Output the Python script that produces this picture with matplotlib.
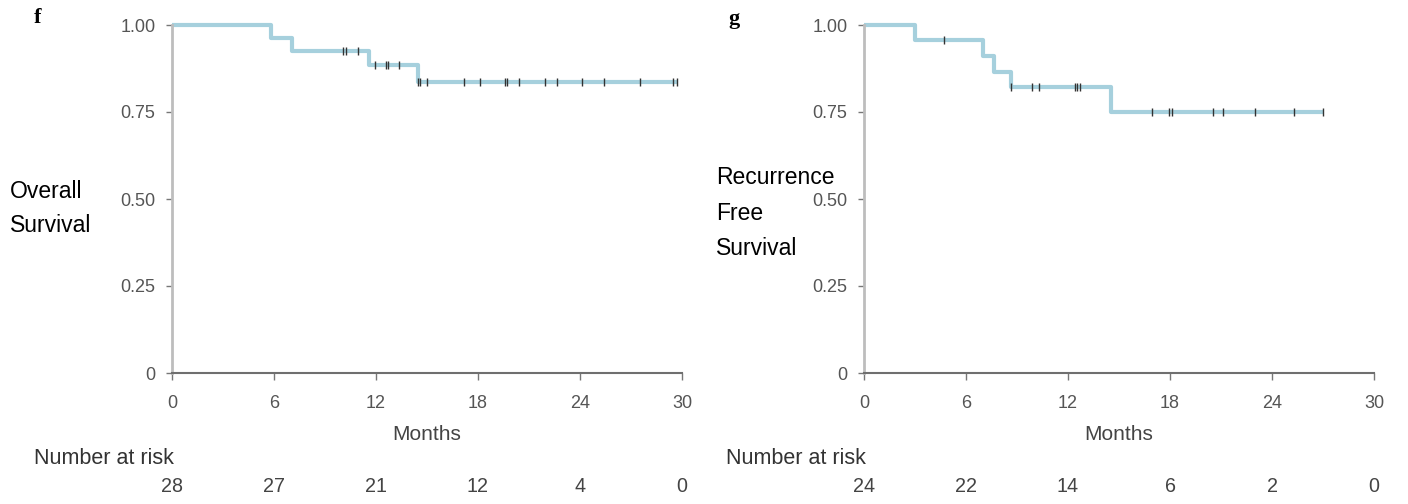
import numpy as np
import matplotlib
matplotlib.use("Agg")
import matplotlib.pyplot as plt

# ---------------- data ----------------
# Overall survival (panel f)
os_times = [0, 5.8, 7.05, 11.6, 14.45, 29.7]
os_surv = [1.00, 0.964, 0.926, 0.884, 0.837, 0.837]
os_censor = [10.07, 10.24, 10.94, 11.95, 12.6, 12.7, 13.33, 14.45, 14.59, 15.0,
             17.16, 18.13, 19.61, 19.69, 20.42, 21.94, 22.63, 24.1, 25.42,
             27.55, 29.48, 29.68]
os_risk = [28, 27, 21, 12, 4, 0]

# Recurrence free survival (panel g)
rfs_times = [0, 3.0, 7.02, 7.64, 8.63, 14.55, 27.0]
rfs_surv = [1.00, 0.956, 0.910, 0.864, 0.821, 0.750, 0.750]
rfs_censor = [4.7, 8.63, 9.91, 10.28, 12.39, 12.55, 12.72, 16.97, 17.96, 18.12,
              20.54, 21.09, 23.02, 25.29, 27.0]
rfs_risk = [24, 22, 14, 6, 2, 0]

x_ticks = [0, 6, 12, 18, 24, 30]
y_ticks = [0, 0.25, 0.50, 0.75, 1.00]
y_ticklabels = ["0", "0.25", "0.50", "0.75", "1.00"]

# ---------------- style ----------------
W, H = 1408, 504
plt.rcParams['font.family'] = ['Liberation Sans', 'DejaVu Sans']
fig = plt.figure(figsize=(W / 100, H / 100), dpi=100)

LINE_C = '#a6d0dd'
TICK_C = '#555555'


def px2fig(x, y):
    return x / W, 1 - y / H


def make_panel(x0, x1, times, surv, censor, risk, letter, letter_xy,
               ylabel_lines, ylabel_x, ylabel_ys):
    y_top, y_bot = 25, 373
    span = y_bot - y_top
    left, bottom = px2fig(x0, y_bot)
    ax = fig.add_axes([left, bottom, (x1 - x0) / W, span / H])
    ax.step(times, surv, where='post', color=LINE_C, lw=3.0, clip_on=False,
            solid_capstyle='butt', zorder=2)
    cy = [surv[np.searchsorted(times, c, side='right') - 1] for c in censor]
    ax.plot(censor, cy, linestyle='none', marker='|', ms=5.5, mew=1.0,
            color='#333333', clip_on=False, zorder=3)
    ax.set_xlim(0, 30)
    ax.set_ylim(0, 1)
    ax.set_xticks(x_ticks)
    ax.set_yticks(y_ticks)
    ax.set_yticklabels(y_ticklabels)
    for s in ['top', 'right']:
        ax.spines[s].set_visible(False)
    ax.spines['left'].set_color('#bdbdbd')
    ax.spines['left'].set_linewidth(2.0)
    ax.spines['bottom'].set_color('#6f6f6f')
    ax.spines['bottom'].set_linewidth(1.5)
    ax.tick_params(axis='y', length=4, width=1, color='#777777', pad=8,
                   labelsize=13, labelcolor=TICK_C)
    ax.tick_params(axis='x', length=5, width=1, color='#777777', pad=11,
                   labelsize=13, labelcolor=TICK_C)
    ax.set_xlabel('Months', fontsize=15, color='#444444', labelpad=9)
    trans = ax.get_xaxis_transform()
    ax.text(0.1, -(458 - y_bot) / span, 'Number at risk', transform=trans,
            ha='right', va='center', fontsize=15.5, color='#333333')
    for xt, r in zip(x_ticks, risk):
        ax.text(xt, -(487 - y_bot) / span, str(r), transform=trans,
                ha='center', va='center', fontsize=14.2, color='#444444')
    fig.text(*px2fig(*letter_xy), letter, family=['Liberation Serif'],
             fontweight='bold', fontsize=16, ha='left', va='baseline')
    for line, yb in zip(ylabel_lines, ylabel_ys):
        fig.text(*px2fig(ylabel_x, yb), line, fontsize=16.5, ha='left',
                 va='baseline', color='black')
    return ax


make_panel(172, 682, os_times, os_surv, os_censor, os_risk, 'f', (34, 23),
           ['Overall', 'Survival'], 10, [198, 232])
make_panel(864, 1374, rfs_times, rfs_surv, rfs_censor, rfs_risk, 'g', (728, 24),
           ['Recurrence', 'Free', 'Survival'], 716, [184, 220, 255])

fig.savefig('out.png', dpi=100)
